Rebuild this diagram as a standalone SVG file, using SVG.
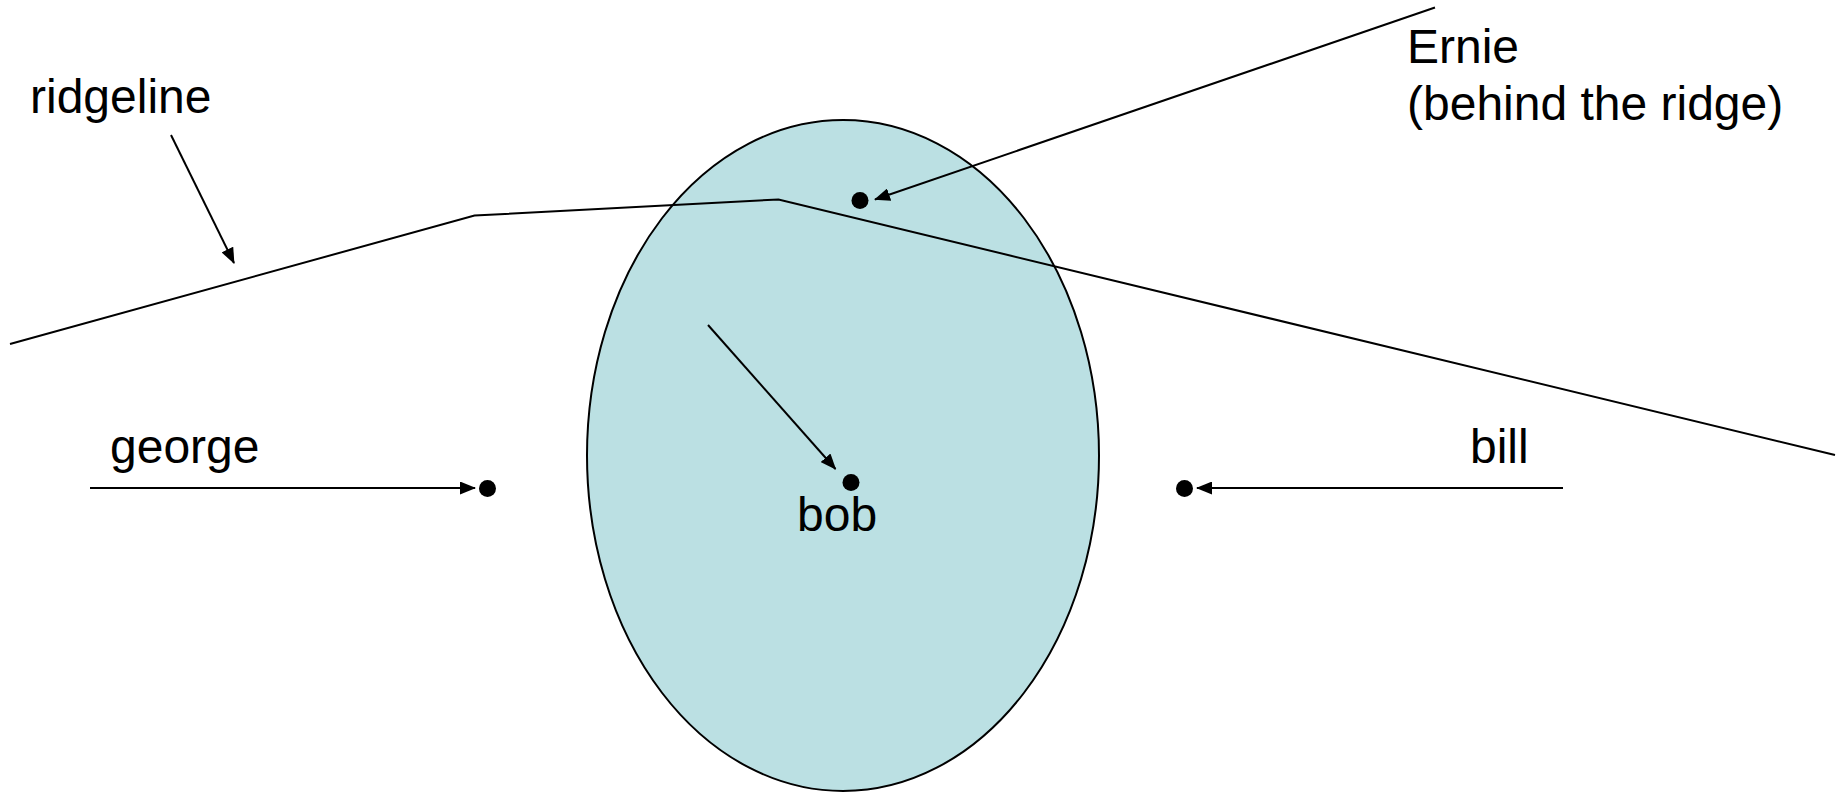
<svg xmlns="http://www.w3.org/2000/svg" width="1847" height="793" viewBox="0 0 1847 793">
<style>
text{font-family:"Liberation Sans",Arial,sans-serif;font-size:48px;fill:#000}
.ln{stroke:#000;stroke-width:2;fill:none}
.ar{stroke:#000;stroke-width:2;fill:none;marker-end:url(#ah)}
.dot{fill:#000}
</style>
<defs>
<marker id="ah" viewBox="0 0 16 13" refX="15" refY="6.5" markerWidth="16" markerHeight="13" markerUnits="userSpaceOnUse" orient="auto">
<path d="M0,0 L16,6.5 L0,13 z" fill="#000"/>
</marker>
</defs>
<rect width="1847" height="793" fill="#fff"/>
<g id="hill">
<ellipse cx="843" cy="455.5" rx="256" ry="335.5" fill="#BBE0E3" stroke="#000" stroke-width="2"/>
</g>
<g id="ridge">
<polyline class="ln" points="10,344 474.5,215.5 778.5,199.5 1835,455"/>
</g>
<g id="ridgeline-label"><text x="30" y="113">ridgeline</text></g>
<g id="ernie">
<circle class="dot" cx="860" cy="200.5" r="8.5"/>
<text x="1407" y="63">Ernie</text>
<text x="1407" y="120">(behind the ridge)</text>
</g>
<g id="george">
<circle class="dot" cx="487.5" cy="488.5" r="8.5"/>
<text x="110" y="463">george</text>
</g>
<g id="bob">
<circle class="dot" cx="851" cy="482.5" r="8.5"/>
<text x="797" y="531">bob</text>
</g>
<g id="bill">
<circle class="dot" cx="1184.5" cy="488.5" r="8.5"/>
<text x="1470" y="463">bill</text>
</g>
<g id="connectors">
<line class="ar" x1="171" y1="135" x2="234" y2="263"/>
<line class="ar" x1="1435" y1="7.5" x2="875" y2="199.5"/>
<line class="ar" x1="90" y1="488" x2="475" y2="488"/>
<line class="ar" x1="1563" y1="488" x2="1197" y2="488"/>
<line class="ar" x1="708" y1="325" x2="835.5" y2="469"/>
</g>
</svg>
